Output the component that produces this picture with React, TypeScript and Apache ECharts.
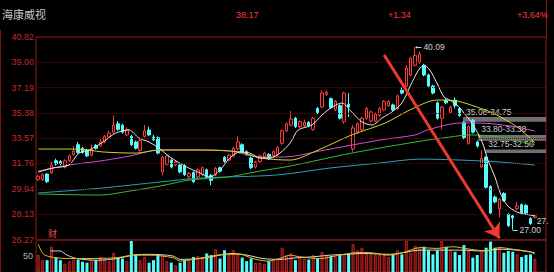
import React, { useEffect, useRef } from "react";
import * as echarts from "echarts";

const stockName = "海康威视";
const headerPrice = "38.17";
const headerChange = "+1.34";
const headerPct = "+3.64%";

const priceTicks = [40.82, 39.0, 37.19, 35.38, 33.57, 31.76, 29.94, 28.13, 26.27];
const slotCount = 115;
const slots = Array.from({ length: slotCount }, (_, i) => "D" + i);

// [open, close, low, high]
const candles = [
  [30.62, 30.84, 30.5, 30.95], [30.6, 30.95, 30.5, 31.05], [31.0, 30.45, 30.35, 31.05], [31.1, 31.64, 31.0, 31.9],
  [31.95, 31.72, 31.6, 32.1], [31.9, 31.75, 31.6, 32.0], [31.5, 31.95, 31.4, 32.05], [31.95, 32.3, 31.85, 32.4],
  [32.4, 32.65, 32.3, 33.0], [33.1, 32.55, 32.45, 33.3], [32.85, 32.55, 32.45, 32.95], [32.7, 32.3, 32.2, 32.8],
  [32.35, 32.78, 32.25, 33.1], [33.05, 32.85, 32.75, 33.15], [33.05, 33.3, 32.95, 33.6], [33.3, 33.7, 33.2, 33.8],
  [33.65, 33.94, 33.55, 34.1], [34.0, 34.5, 33.9, 35.2], [34.6, 34.2, 34.1, 34.8], [34.5, 34.0, 33.9, 34.6],
  [33.8, 34.2, 33.7, 34.35], [33.7, 33.1, 33.0, 33.8], [33.3, 32.85, 32.75, 33.4], [32.7, 33.4, 32.6, 33.5],
  [33.7, 34.1, 33.6, 34.5], [34.15, 33.8, 33.7, 34.4], [33.65, 33.45, 33.35, 33.8], [33.6, 32.5, 32.4, 33.7],
  [31.15, 32.2, 30.9, 32.3], [31.7, 32.3, 31.6, 32.4], [32.0, 31.5, 31.4, 32.1], [31.65, 31.85, 31.55, 31.95],
  [31.65, 31.15, 31.05, 31.7], [31.6, 30.95, 30.85, 31.7], [30.8, 31.05, 30.6, 31.15], [31.1, 30.45, 30.35, 31.2],
  [30.8, 31.3, 30.7, 31.4], [30.95, 31.45, 30.85, 31.55], [31.3, 30.75, 30.65, 31.4], [30.9, 30.55, 30.2, 31.0],
  [30.95, 31.4, 30.85, 31.5], [31.45, 31.2, 31.1, 31.55], [32.2, 31.9, 31.8, 32.3], [32.0, 32.35, 31.9, 32.45],
  [32.3, 32.85, 32.2, 32.95], [32.8, 33.3, 32.7, 33.7], [33.1, 32.6, 32.5, 33.2], [32.6, 32.4, 32.3, 32.7],
  [32.15, 31.45, 31.35, 32.25], [31.5, 31.85, 31.4, 31.95], [31.9, 32.3, 31.8, 32.4], [32.2, 32.5, 32.1, 32.6],
  [32.4, 32.1, 32.0, 32.5], [32.3, 32.6, 32.2, 32.7], [32.4, 32.9, 32.3, 33.0], [33.2, 34.1, 33.1, 34.2],
  [34.1, 34.6, 34.0, 34.7], [34.5, 34.95, 34.4, 35.5], [35.0, 34.4, 34.3, 35.1], [34.4, 34.75, 34.3, 34.85],
  [34.45, 34.7, 34.35, 34.9], [34.7, 34.45, 34.35, 34.8], [34.2, 35.0, 34.1, 35.1], [35.7, 35.4, 35.3, 35.8],
  [35.8, 36.8, 35.7, 37.0], [36.7, 36.85, 36.6, 37.0], [36.4, 35.75, 35.65, 36.5], [35.6, 36.2, 35.5, 36.3],
  [35.9, 35.0, 34.9, 36.0], [34.75, 36.8, 34.6, 36.9], [36.0, 35.8, 35.1, 36.8], [32.8, 34.3, 32.6, 34.5],
  [34.0, 34.6, 33.9, 34.7], [34.2, 35.0, 34.1, 35.1], [35.0, 35.7, 34.9, 35.8], [34.8, 35.45, 34.7, 35.55],
  [34.8, 35.3, 34.7, 35.4], [35.2, 35.7, 35.1, 35.8], [35.6, 36.2, 35.5, 36.3], [35.9, 36.2, 35.8, 36.3],
  [35.95, 35.6, 35.5, 36.05], [35.7, 36.6, 35.6, 36.7], [37.0, 36.8, 36.7, 37.2], [37.3, 38.6, 37.2, 38.8],
  [38.1, 39.3, 38.0, 39.4], [38.8, 39.5, 38.7, 40.09], [39.0, 39.6, 38.9, 39.75], [38.8, 38.1, 38.0, 38.9],
  [38.1, 37.3, 37.2, 38.2], [37.3, 36.8, 36.7, 37.4], [36.1, 35.0, 34.9, 36.2], [35.0, 35.8, 34.2, 35.9],
  [36.3, 36.1, 36.0, 36.4], [35.4, 35.8, 35.3, 35.9], [36.3, 35.9, 35.7, 36.5], [35.7, 35.2, 35.1, 35.8],
  [34.7, 33.6, 33.5, 34.8], [33.2, 34.4, 33.1, 34.5], [34.85, 34.0, 33.9, 34.95], [33.3, 33.0, 32.9, 33.4],
  [31.5, 32.1, 31.4, 32.7], [32.2, 30.05, 29.95, 32.3], [30.1, 28.2, 28.1, 30.2], [29.35, 29.0, 28.9, 29.45],
  [28.5, 29.2, 27.9, 29.3], [29.6, 29.1, 29.0, 29.7], [28.1, 27.3, 27.2, 28.2], [28.0, 27.85, 27.0, 28.1],
  [28.5, 28.7, 28.4, 29.0], [28.8, 28.25, 28.15, 28.9], [28.75, 28.2, 28.1, 28.85], [27.8, 27.45, 27.35, 27.9],
  [27.9, 28.0, 27.8, 28.05],
];

const volumes = [
  53, 37, 37, 79, 45, 37, 26, 34, 39, 39, 32, 29, 37, 37, 47, 39, 34, 60, 45, 42, 34, 97, 55, 37, 47, 29, 37, 55, 53, 34, 29, 21,
  29, 37, 34, 47, 50, 42, 58, 53, 71, 42, 68, 55, 68, 55, 45, 34, 42, 29, 29, 26, 34, 39, 42, 76, 53, 58, 37, 45, 42, 39, 53, 42, 63, 50, 50, 47, 53, 55, 58, 87, 68, 76, 63,
  60, 55, 53, 53, 47, 55, 68, 55, 97, 60, 82, 74, 79, 68, 55, 68, 97, 79, 68, 63, 53, 84, 66, 45, 53, 66, 76, 95, 76, 79, 60, 66, 63, 55, 47, 53, 55, 42,
];

// moving averages: [day index, value]
const ma5 = [
  [0, 31.14], [3.3, 31.43], [6.9, 31.64], [9.2, 32.5], [11.5, 32.72], [14.6, 33.29], [17.5, 33.94], [20.5, 34.15],
  [22.7, 33.58], [25.0, 33.29], [27.2, 32.86], [29.7, 32.22], [33.5, 31.5], [36.5, 31.07], [38.7, 30.78], [41.0, 31.29],
  [43.2, 32.15], [45.5, 32.58], [47.7, 32.5], [50.0, 32.15], [52.3, 32.15], [54.5, 32.5], [56.8, 33.22], [58.6, 34.15],
  [61.7, 34.51], [64.0, 35.23], [66.3, 35.8], [68.5, 36.09], [70.7, 35.44], [73.0, 34.73], [75.3, 34.51], [77.5, 35.01],
  [79.7, 35.44], [82.0, 36.09], [84.3, 37.59], [86.1, 38.6], [87.2, 38.74], [88.3, 38.45], [89.9, 37.52], [91.5, 36.52],
  [92.8, 36.3], [94.9, 35.8], [96.0, 35.37], [97.8, 34.65], [100.1, 33.29], [101.4, 32.0], [103.0, 30.78], [104.1, 29.71],
  [105.7, 28.78], [107.9, 28.28], [110.9, 28.06], [112.0, 27.99],
];
const maYellow = [
  [0, 32.79], [8.8, 32.79], [14.6, 32.58], [22.1, 32.5], [27.2, 32.72], [36.5, 32.72], [45.5, 32.58], [50.0, 32.15],
  [56.8, 32.0], [63.1, 32.72], [70.7, 33.8], [78.2, 34.65], [83.8, 35.59], [89.9, 36.3], [94.4, 36.23], [98.9, 35.8],
  [102.5, 35.37], [108.0, 34.37], [112.0, 33.22],
];
const maPurple = [
  [0, 31.21], [6.9, 31.64], [13.9, 31.93], [18.2, 32.15], [20.7, 32.29], [27.2, 32.72], [34.2, 32.72], [43.2, 32.65],
  [50.0, 32.22], [55.6, 32.22], [63.5, 32.65], [77.1, 33.44], [85.0, 33.8], [87.7, 34.15], [95.1, 34.65], [99.6, 34.65],
  [106.4, 34.44], [112.0, 34.08],
];
const maGreen = [
  [0, 29.57], [13.9, 29.49], [20.7, 29.78], [27.5, 30.14], [34.2, 30.57], [42.6, 30.78], [50.0, 31.21], [56.8, 31.57],
  [70.7, 32.5], [85.0, 33.29], [92.8, 33.65], [97.4, 33.8], [104.1, 33.65], [112.0, 33.08],
];
const maTeal = [
  [0, 29.64], [13.9, 29.98], [27.5, 30.43], [36.5, 30.71], [53.8, 30.93], [65.8, 31.43], [77.1, 31.79], [86.1, 32.07],
  [95.1, 32.0], [104.1, 31.86], [112.0, 31.64],
];
const volMaWhite = [
  [2.7, 65.8], [4.9, 65.8], [6.5, 52.6], [8.7, 42.1], [13.3, 36.8], [17.8, 42.1], [21.4, 52.6], [25.2, 55.3], [30.4, 50.0],
  [32.0, 39.5], [36.5, 42.1], [41.0, 52.6], [43.9, 57.9], [47.1, 52.6], [50.7, 42.1], [54.5, 39.5], [58.4, 44.7],
  [61.9, 47.4], [65.8, 52.6], [69.6, 55.3], [73.2, 57.9], [79.3, 55.3], [82.3, 60.5], [86.1, 68.4], [92.2, 68.4],
  [95.8, 68.4], [99.6, 65.8], [104.1, 71.1], [107.9, 68.4], [112.0, 60.5],
];
const volMaYellow = [
  [0, 86.8], [1.5, 52.6], [7.2, 42.1], [11.0, 42.1], [17.8, 44.7], [21.4, 52.6], [25.2, 52.6], [30.4, 44.7], [32.0, 34.2],
  [38.1, 47.4], [42.6, 55.3], [45.5, 55.3], [48.4, 42.1], [51.6, 34.2], [54.5, 42.1], [56.8, 52.6], [59.0, 47.4],
  [63.5, 42.1], [68.0, 52.6], [71.9, 60.5], [74.8, 60.5], [78.6, 52.6], [82.3, 60.5], [86.1, 76.3], [89.9, 73.7],
  [93.5, 78.9], [97.4, 71.1], [101.2, 65.8], [104.1, 76.3], [107.0, 71.1], [110.9, 63.2], [112.0, 55.3],
];

// support bands: start day, upper, lower
const bandStarts = [95.8, 99.2, 100.8];
const bandHighs = [35.08, 33.8, 32.75];
const bandLows = [34.75, 33.38, 32.5];

const peakDay = 85;
const peakValue = 40.09;
const lowDay = 107;
const lowValue = 27.0;
const lastLabel = "27.";
const lastLabelValue = 27.63;
const arrowFrom = [78, 39.53];
const arrowTo = [104, 26.4];

const RED = "#ff3a3a";
const CYAN = "#54fcfc";
const FONT = "Liberation Sans, Arial, sans-serif";

export default function App() {
  const ref = useRef<HTMLDivElement>(null);
  useEffect(() => {
    if (!ref.current) return;
    const chart = echarts.init(ref.current, null, { renderer: "svg" });
    const last = slotCount - 0.5;
    const volData = volumes.map((v, i) => {
      const up = candles[i][1] >= candles[i][0];
      return {
        value: v,
        itemStyle: up
          ? { color: "#4a0c0c", borderColor: "#c42020", borderWidth: 1 }
          : { color: CYAN, borderWidth: 0 },
      };
    });
    const maLine = (data: number[][], color: string, x: number, y: number, extra: any = {}) => ({
      type: "line",
      xAxisIndex: x,
      yAxisIndex: y,
      data,
      showSymbol: false,
      smooth: 0.3,
      silent: true,
      lineStyle: { color, width: 1 },
      z: 3,
      ...extra,
    });
    const bandData = bandStarts.map((s, k) => [
      {
        coord: [s, bandHighs[k]],
        label: {
          show: true,
          formatter: bandHighs[k].toFixed(2) + "-" + bandLows[k].toFixed(2),
        },
      },
      { coord: [last, bandLows[k]] },
    ]);
    const option: any = {
      animation: false,
      backgroundColor: "#000000",
      grid: [
        { left: 36, top: 37, width: 510, height: 203, show: true, borderColor: "#8c1c1c", borderWidth: 1, backgroundColor: "transparent" },
        { left: 36, top: 240, width: 510, height: 38, show: true, borderColor: "#8c1c1c", borderWidth: 1, backgroundColor: "transparent" },
      ],
      xAxis: [
        { type: "category", gridIndex: 0, data: slots, show: false },
        { type: "value", gridIndex: 0, min: -0.5, max: last, show: false },
        { type: "category", gridIndex: 1, data: slots, show: false },
        { type: "value", gridIndex: 1, min: -0.5, max: last, show: false },
      ],
      yAxis: [
        { type: "value", gridIndex: 0, min: 26.27, max: 40.82, show: false },
        {
          type: "value", gridIndex: 1, min: 0, max: 100, interval: 50,
          axisLine: { show: false }, axisTick: { show: false }, splitLine: { show: false },
          axisLabel: { color: "#b4b4b4", fontSize: 9, fontFamily: FONT, margin: 3, formatter: (v: number) => (v === 50 ? "50" : "") },
        },
      ],
      graphic: [
        { type: "line", shape: { x1: 0.5, y1: 30, x2: 0.5, y2: 272 }, style: { stroke: "#7a1414", lineWidth: 1 } },
        { type: "line", shape: { x1: 546.5, y1: 0, x2: 546.5, y2: 37 }, style: { stroke: "#8c1c1c", lineWidth: 1 } },
        { type: "text", left: 2, top: 8, style: { text: stockName, fill: "#c8c8c8", font: '11px "Noto Sans CJK SC"' } },
        { type: "text", left: 236, top: 10, style: { text: headerPrice, fill: RED, font: "9px " + FONT } },
        { type: "text", left: 388, top: 10, style: { text: headerChange, fill: RED, font: "9px " + FONT } },
        { type: "text", left: 517, top: 10, style: { text: headerPct, fill: RED, font: "9px " + FONT } },
        { type: "text", left: 48, top: 229, style: { text: "财", fill: "#e05050", font: '9px "Noto Sans CJK SC"' } },
      ],
      series: [
        {
          type: "candlestick",
          xAxisIndex: 0,
          yAxisIndex: 0,
          data: candles,
          barWidth: 3,
          silent: true,
          itemStyle: { color: "#000000", color0: CYAN, borderColor: RED, borderColor0: CYAN, borderWidth: 1 },
          markLine: {
            silent: true,
            symbol: "none",
            animation: false,
            lineStyle: { color: "#5e0d0d", type: "dotted", width: 1 },
            label: { position: "start", distance: 2, color: "#c8282a", fontSize: 9, fontFamily: FONT, formatter: "{b}" },
            data: priceTicks.map((v) => ({ yAxis: v, name: v.toFixed(2) })),
          },
          z: 2,
        },
        maLine(maTeal, "#2aa0b4", 1, 0),
        maLine(maGreen, "#2fbf2f", 1, 0),
        maLine(maPurple, "#d050d0", 1, 0),
        maLine(maYellow, "#d4d42a", 1, 0),
        maLine(ma5, "#e6e6e6", 1, 0, {
          markArea: {
            silent: true,
            itemStyle: { color: "rgba(140,140,140,0.8)" },
            label: { show: true, position: [3, -10], color: "#d0d0d0", fontSize: 8.5, fontFamily: FONT },
            data: bandData,
          },
          markLine: {
            silent: true,
            animation: false,
            symbol: "none",
            data: [
              [
                { coord: arrowFrom, symbol: "none", lineStyle: { color: "#ee3a2e", width: 3, type: "solid" }, label: { show: false } },
                { coord: arrowTo, symbol: "arrow", symbolSize: 14 },
              ],
              [
                { coord: [peakDay + 0.3, peakValue], symbol: "circle", symbolSize: 2, lineStyle: { color: "#cfcfcf", width: 1, type: "solid" },
                  label: { show: true, position: "end", distance: 2, formatter: peakValue.toFixed(2), color: "#d0d0d0", fontSize: 8.5, fontFamily: FONT } },
                { coord: [peakDay + 1.4, peakValue], symbol: "none" },
              ],
              [
                { coord: [lowDay, lowValue], symbol: "none", lineStyle: { color: "#cfcfcf", width: 1, type: "solid" },
                  label: { show: true, position: "end", distance: 2, formatter: lowValue.toFixed(2), color: "#d0d0d0", fontSize: 8.5, fontFamily: FONT } },
                { coord: [lowDay + 1.1, lowValue], symbol: "none" },
              ],
            ],
          },
          markPoint: {
            silent: true,
            symbol: "circle",
            symbolSize: 0,
            label: { show: true, position: "right", distance: 4, formatter: lastLabel, color: "#d0d0d0", fontSize: 8.5, fontFamily: FONT },
            data: [{ coord: [111.5, lastLabelValue] }],
          },
          z: 4,
        }),
        {
          type: "bar",
          xAxisIndex: 2,
          yAxisIndex: 1,
          data: volData,
          barWidth: 3,
          silent: true,
          z: 2,
        },
        maLine(volMaWhite, "#d8d8d8", 3, 1),
        maLine(volMaYellow, "#e0c020", 3, 1),
      ],
    };
    chart.setOption(option);
    return () => chart.dispose();
  }, []);
  return (
    <div
      ref={ref}
      style={{ position: "fixed", left: 0, top: 0, width: 554, height: 272, background: "#000" }}
    />
  );
}
